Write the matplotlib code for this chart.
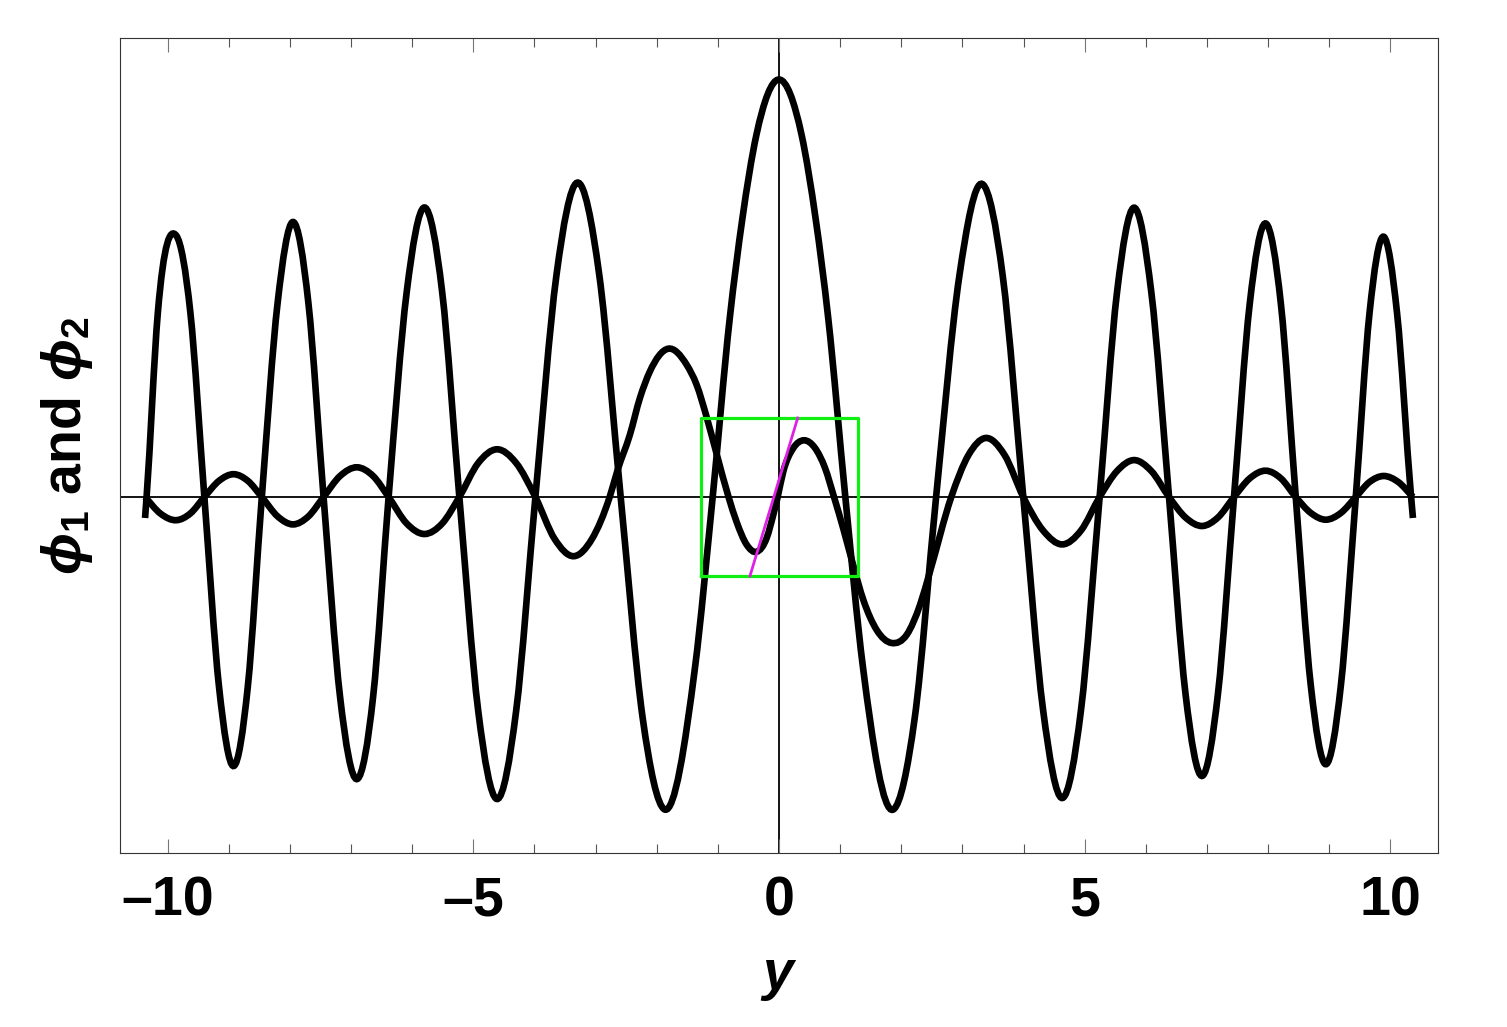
import numpy as np
import matplotlib
matplotlib.use('Agg')
import matplotlib.pyplot as plt
from matplotlib.path import Path
from matplotlib.patches import PathPatch

# values (y, value)
phi1_y = [-10.37, -10.345, -10.16, -9.86, -9.63, -9.40, -9.16, -8.92, -8.69, -8.46,
          -8.20, -7.95, -7.70, -7.45, -7.18, -6.90, -6.64, -6.386, -6.09, -5.80,
          -5.51, -5.229, -4.92, -4.613, -4.30, -3.985, -3.64, -3.303, -2.94, -2.59,
          -2.23, -1.87, -1.375, -1.085, -0.805, -0.60, -0.37, 0.0,
          0.37, 0.60, 0.805, 1.085, 1.375, 1.87, 2.22, 2.57, 2.95, 3.325,
          3.66, 3.996, 4.32, 4.635, 4.94, 5.245, 5.53, 5.807, 6.09, 6.38,
          6.65, 6.926, 7.18, 7.443, 7.70, 7.962, 8.21, 8.453, 8.70, 8.944,
          9.19, 9.435, 9.66, 9.888, 10.11, 10.34, 10.37]
phi1_v = [-0.21, 0.0, 1.85, 2.615, 1.85, 0.0, -1.90, -2.69, -1.90, 0.0,
          1.95, 2.75, 1.95, 0.0, -2.0, -2.82, -2.0, 0.0, 2.05, 2.895,
          2.05, 0.0, -2.14, -3.02, -2.14, 0.0, 2.22, 3.143, 2.22, 0.0,
          -2.21, -3.125, -1.71, 0.0, 1.79, 2.78, 3.62, 4.175,
          3.62, 2.78, 1.79, 0.0, -1.71, -3.125, -2.21, 0.0, 2.21, 3.13,
          2.21, 0.0, -2.13, -3.01, -2.13, 0.0, 2.05, 2.893, 2.05, 0.0,
          -1.97, -2.788, -1.97, 0.0, 1.93, 2.735, 1.93, 0.0, -1.89, -2.672,
          -1.89, 0.0, 1.84, 2.603, 1.84, 0.0, -0.21]

phi2_y = [-10.37, -10.12, -9.86, -9.63, -9.40, -9.16, -8.92, -8.69, -8.46, -8.20,
          -7.95, -7.70, -7.45, -7.18, -6.90, -6.64, -6.386, -6.09, -5.80, -5.51,
          -5.229, -4.92, -4.613, -4.30, -3.985, -3.67, -3.358, -3.06, -2.77, -2.64,
          -2.439, -2.275, -2.111, -1.811, -1.511, -1.348, -1.184, -1.02, -0.825, -0.693,
          -0.529, -0.366, -0.202, -0.093, -0.022, 0.071, 0.235, 0.409, 0.589, 0.753,
          0.90, 1.053, 1.217, 1.38, 1.598, 1.844, 2.09, 2.308, 2.471, 2.818,
          3.10, 3.38, 3.69, 3.996, 4.32, 4.635, 4.94, 5.245, 5.53, 5.807,
          6.09, 6.38, 6.65, 6.926, 7.18, 7.443, 7.70, 7.962, 8.21, 8.453,
          8.70, 8.944, 9.19, 9.435, 9.66, 9.888, 10.13, 10.37]
phi2_v = [0.0, -0.165, -0.232, -0.165, 0.0, 0.162, 0.228, 0.162, 0.0, -0.195,
          -0.274, -0.195, 0.0, 0.21, 0.297, 0.21, 0.0, -0.265, -0.37, -0.265,
          0.0, 0.34, 0.477, 0.34, 0.0, -0.42, -0.592, -0.42, 0.0, 0.27,
          0.623, 0.99, 1.257, 1.483, 1.323, 1.123, 0.80, 0.43, 0.0, -0.25,
          -0.477, -0.548, -0.41, -0.177, 0.0, 0.257, 0.49, 0.567, 0.49, 0.29,
          0.0, -0.32, -0.69, -1.03, -1.33, -1.46, -1.377, -1.077, -0.743, 0.0,
          0.42, 0.59, 0.42, 0.0, -0.335, -0.474, -0.335, 0.0, 0.26, 0.369,
          0.26, 0.0, -0.205, -0.29, -0.205, 0.0, 0.186, 0.263, 0.186, 0.0,
          -0.16, -0.227, -0.16, 0.0, 0.15, 0.21, 0.15, 0.0]

# green box and magenta tangent
box_y = [-1.27, 1.30, 1.30, -1.27, -1.27]
box_v = [-0.79, -0.79, 0.79, 0.79, -0.79]
tangent_y = [-0.475, 0.306]
tangent_v = [-0.79, 0.79]

xtick_pos = [-10, -5, 0, 5, 10]
xtick_labels = ['\u201310', '\u20135', '0', '5', '10']


def smooth_path(xs, vs):
    # cubic Hermite segments through the read points, drawn as bezier curves
    xs = np.asarray(xs, float)
    vs = np.asarray(vs, float)
    m = np.gradient(vs, xs)
    verts = [(xs[0], vs[0])]
    codes = [Path.MOVETO]
    for i in range(len(xs) - 1):
        h = xs[i + 1] - xs[i]
        verts += [(xs[i] + h / 3, vs[i] + m[i] * h / 3),
                  (xs[i + 1] - h / 3, vs[i + 1] - m[i + 1] * h / 3),
                  (xs[i + 1], vs[i + 1])]
        codes += [Path.CURVE4] * 3
    return Path(verts, codes)


plt.rcParams['font.family'] = ['Liberation Sans', 'DejaVu Sans']
plt.rcParams['font.weight'] = 'bold'
plt.rcParams['mathtext.fontset'] = 'custom'
plt.rcParams['mathtext.rm'] = 'Liberation Sans:bold'
plt.rcParams['mathtext.bf'] = 'Liberation Sans:bold'
plt.rcParams['mathtext.it'] = 'Liberation Sans:bold:italic'

fig = plt.figure(figsize=(15.07, 10.27), dpi=100)
ax = fig.add_axes([120 / 1507, 174 / 1027, 1318 / 1507, 815 / 1027])

# axes through the origin
ax.axhline(0, color='black', lw=1.3, zorder=1)
ax.axvline(0, color='black', lw=1.3, zorder=1)

for ys, vs in [(phi1_y, phi1_v), (phi2_y, phi2_v)]:
    ax.add_patch(PathPatch(smooth_path(ys, vs), facecolor='none', edgecolor='black',
                           lw=4.8, capstyle='butt', zorder=3))

ax.plot(box_y, box_v, color='#11ee11', lw=2.3, zorder=4)
ax.plot(tangent_y, tangent_v, color='#e020e8', lw=2.0, zorder=5)

ax.set_xlim(-10.78, 10.78)
ax.set_ylim(-3.56, 4.59)

ax.set_xticks(xtick_pos)
ax.set_xticklabels(xtick_labels, fontsize=40, fontweight='bold')
ax.set_xticks(np.arange(-10, 11, 1), minor=True)
ax.set_yticks([])
ax.tick_params(axis='x', which='major', direction='in', top=True, bottom=True,
               length=10, width=0.8, color='#777777', pad=16)
ax.tick_params(axis='x', which='minor', direction='in', top=True, bottom=True,
               length=6.5, width=0.8, color='#555555')

for s in ax.spines.values():
    s.set_color('#333333')
    s.set_linewidth(0.8)

ax.set_xlabel(r'$y$', fontsize=40, labelpad=17)
ax.set_ylabel(r'$\phi_1$ and $\phi_2$', fontsize=40, fontweight='bold', labelpad=18)

fig.savefig('out.png', dpi=100)
